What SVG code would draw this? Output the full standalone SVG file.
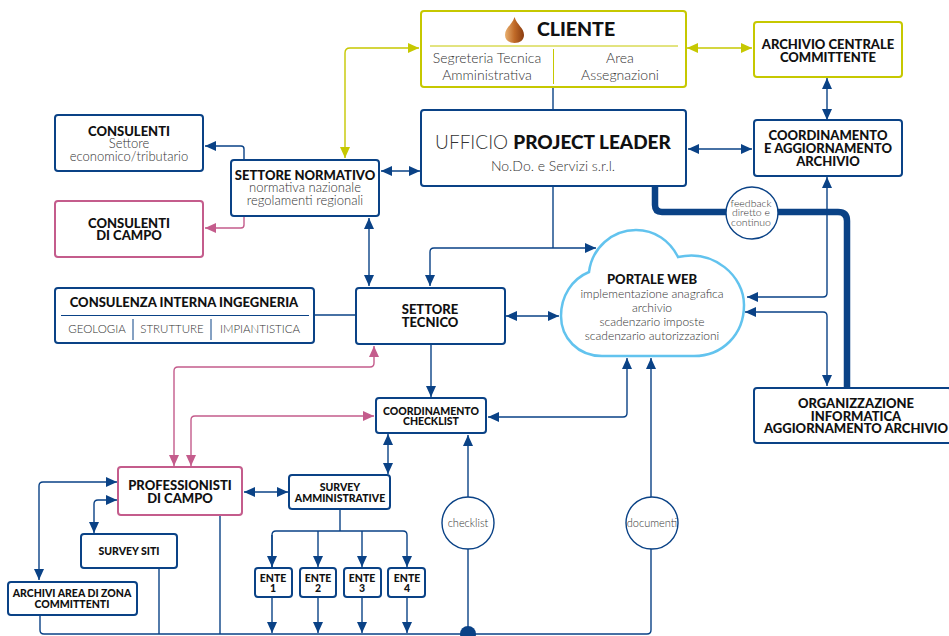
<svg xmlns="http://www.w3.org/2000/svg" width="949" height="636" viewBox="0 0 949 636">
<style>
text{font-family:"Lato","Open Sans","Liberation Sans",sans-serif;text-anchor:middle;fill:#111}
.b{font-weight:900;font-size:13px}
.s{font-weight:900;font-size:10.500px}
.l{font-weight:300;font-size:13px;fill:#333}
.pw{font-weight:300;font-size:12px;fill:#333}
.sub{font-weight:300;font-size:11.500px;fill:#333}
.m{font-weight:300;font-size:14px;fill:#333}
.t{font-weight:300;font-size:10.500px;fill:#333}
.n{fill:#fff;stroke:#0a4286;stroke-width:2}
.p{fill:#fff;stroke:#c45c8c;stroke-width:2}
.y{fill:#fff;stroke:#c6c800;stroke-width:2}
.c{fill:none;stroke:#0a4286;stroke-width:1.400}
.cp{fill:none;stroke:#c45c8c;stroke-width:1.400}
.cy{fill:none;stroke:#c6c800;stroke-width:1.400}
</style>
<defs>
<marker id="a" markerUnits="userSpaceOnUse" markerWidth="12" markerHeight="11" refX="11" refY="5" orient="auto-start-reverse"><path d="M0 0L11 5L0 10z" fill="#0a4286"/></marker>
<marker id="ap" markerUnits="userSpaceOnUse" markerWidth="12" markerHeight="11" refX="11" refY="5" orient="auto-start-reverse"><path d="M0 0L11 5L0 10z" fill="#c45c8c"/></marker>
<marker id="ay" markerUnits="userSpaceOnUse" markerWidth="12" markerHeight="11" refX="11" refY="5" orient="auto-start-reverse"><path d="M0 0L11 5L0 10z" fill="#c6c800"/></marker>
<linearGradient id="dr" x1="0" x2="1" y1="0" y2="0"><stop offset="0" stop-color="#e8b070"/><stop offset=".5" stop-color="#c06a28"/><stop offset="1" stop-color="#8a3c10"/></linearGradient>
</defs>
<g id="connectors">
<path d="M655 186V205Q655 212 662 212H838Q847 212 847 221V388" fill="none" stroke="#0a4286" stroke-width="6.500"/>
<path class="cy" d="M687 48H752" marker-start="url(#ay)" marker-end="url(#ay)"/>
<path class="cy" d="M345 158V53Q345 48 350 48H419" marker-start="url(#ay)" marker-end="url(#ay)"/>
<path class="c" d="M553 87V110"/>
<path class="c" d="M553 186V248"/>
<path class="c" d="M827 78V120" marker-start="url(#a)" marker-end="url(#a)"/>
<path class="c" d="M688 149H752" marker-start="url(#a)" marker-end="url(#a)"/>
<path class="c" d="M381 171H420" marker-start="url(#a)" marker-end="url(#a)"/>
<path class="c" d="M827 177V293Q827 297 823 297H747" marker-start="url(#a)" marker-end="url(#a)"/>
<path class="c" d="M745 312H823Q827 312 827 316V386" marker-start="url(#a)" marker-end="url(#a)"/>
<path class="c" d="M244 159V149Q244 146 241 146H205" marker-end="url(#a)"/>
<path class="cp" d="M244 216V225Q244 228 241 228H205" marker-end="url(#ap)"/>
<path class="c" d="M369 218V286" marker-start="url(#a)" marker-end="url(#a)"/>
<path class="c" d="M314 315H356"/>
<path class="c" d="M430 286V252Q430 248 434 248H596" marker-start="url(#a)" marker-end="url(#a)"/>
<path class="c" d="M506 316H559" marker-start="url(#a)" marker-end="url(#a)"/>
<path class="c" d="M431 344V397" marker-end="url(#a)"/>
<path class="c" d="M488 417H623Q627 417 627 413V358" marker-start="url(#a)" marker-end="url(#a)"/>
<path class="c" d="M651 358V630Q651 634 647 634H44Q40 634 40 630V616" marker-start="url(#a)"/>
<path class="c" d="M388 434V474" marker-start="url(#a)" marker-end="url(#a)"/>
<path class="c" d="M468 435V634" marker-start="url(#a)"/>
<path class="cp" d="M174 466V371Q174 367 178 367H370Q374 367 374 363V346" marker-start="url(#ap)" marker-end="url(#ap)"/>
<path class="cp" d="M191 466V420Q191 416 195 416H374" marker-start="url(#ap)" marker-end="url(#ap)"/>
<path class="c" d="M244 492H288" marker-start="url(#a)" marker-end="url(#a)"/>
<path class="c" d="M117 482H43Q39 482 39 486V580" marker-start="url(#a)" marker-end="url(#a)"/>
<path class="c" d="M117 500H98Q94 500 94 504V533" marker-start="url(#a)" marker-end="url(#a)"/>
<path class="c" d="M159 569V634"/>
<path class="c" d="M220 516V634"/>
<path class="c" d="M340 510V531"/>
<path class="c" d="M272 567V535Q272 531 276 531H403Q407 531 407 535V567" marker-end="url(#a)"/>
<path class="c" d="M272 535V567" marker-end="url(#a)"/>
<path class="c" d="M318 531V567" marker-end="url(#a)"/>
<path class="c" d="M362 531V567" marker-end="url(#a)"/>
<path class="c" d="M272 598V633" marker-end="url(#a)"/>
<path class="c" d="M318 598V633" marker-end="url(#a)"/>
<path class="c" d="M362 598V633" marker-end="url(#a)"/>
<path class="c" d="M407 598V633" marker-end="url(#a)"/>
<circle cx="468" cy="634" r="8" fill="#0a4286"/>
</g>
<g id="cliente">
<rect class="y" x="421" y="11" width="265" height="76" rx="3"/>
<path d="M514.500 17C517 25 524 28 524 35C524 40 520 43 514.500 43C509 43 505 40 505 35C505 28 512 25 514.500 17Z" fill="url(#dr)"/>
<text x="576" y="36" class="b" style="font-size:19.500px">CLIENTE</text>
<path d="M430 46H678M553.500 49V84" stroke="#c6c800" stroke-width="1" fill="none"/>
<text x="487" y="63" class="m">Segreteria Tecnica</text>
<text x="487" y="80" class="m">Amministrativa</text>
<text x="620" y="63" class="m">Area</text>
<text x="620" y="80" class="m">Assegnazioni</text>
</g>
<g id="ufficio">
<rect class="n" x="421" y="110" width="265" height="76" rx="3"/>
<text x="553" y="149" class="l" style="font-size:19px">UFFICIO <tspan font-weight="900" fill="#111">PROJECT LEADER</tspan></text>
<text x="553" y="171" class="m">No.Do. e Servizi s.r.l.</text>
</g>
<g id="archivio-centrale">
<rect class="y" x="754" y="22" width="148" height="55" rx="3"/>
<text x="828" y="49" class="b">ARCHIVIO CENTRALE</text><text x="828" y="62" class="b">COMMITTENTE</text>
</g>
<g id="coordinamento-archivio">
<rect class="n" x="754" y="120" width="148" height="56" rx="3"/>
<text x="828" y="140" class="b">COORDINAMENTO</text><text x="828" y="153" class="b">E AGGIORNAMENTO</text><text x="828" y="166" class="b">ARCHIVIO</text>
</g>
<g id="feedback">
<circle cx="752" cy="213" r="26" fill="#fff" stroke="#0a4286" stroke-width="1.400"/>
<text x="751" y="207" class="t">feedback</text><text x="751" y="216" class="t">diretto e</text><text x="751" y="226" class="t">continuo</text>
</g>
<g id="organizzazione">
<rect class="n" x="754" y="388" width="197" height="55" rx="3"/>
<text x="856" y="408" class="b">ORGANIZZAZIONE</text><text x="856" y="421" class="b">INFORMATICA</text><text x="856" y="433" class="b">AGGIORNAMENTO ARCHIVIO</text>
</g>
<g id="consulenti">
<rect class="n" x="55" y="115" width="148" height="56" rx="3"/>
<text x="129" y="136" class="b">CONSULENTI</text><text x="129" y="148" class="l">Settore</text><text x="129" y="161" class="l">economico/tributario</text>
</g>
<g id="settore-normativo">
<rect class="n" x="231" y="160" width="148" height="56" rx="3"/>
<text x="305" y="180" class="b">SETTORE NORMATIVO</text><text x="305" y="192" class="l">normativa nazionale</text><text x="305" y="205" class="l">regolamenti regionali</text>
</g>
<g id="consulenti-campo">
<rect class="p" x="55" y="201" width="148" height="56" rx="3"/>
<text x="129" y="228" class="b">CONSULENTI</text><text x="129" y="240" class="b">DI CAMPO</text>
</g>
<g id="consulenza-interna">
<rect class="n" x="55" y="288" width="259" height="55" rx="3"/>
<text x="184" y="307" class="b">CONSULENZA INTERNA INGEGNERIA</text>
<path d="M61 315.500H309M133 319V340M211 319V340" stroke="#0a4286" stroke-width="1" fill="none"/>
<text x="97" y="333" class="sub">GEOLOGIA</text><text x="172" y="333" class="sub">STRUTTURE</text><text x="260" y="333" class="sub">IMPIANTISTICA</text>
</g>
<g id="settore-tecnico">
<rect class="n" x="356" y="288" width="149" height="56" rx="3"/>
<text x="430" y="314" class="b">SETTORE</text><text x="430" y="327" class="b">TECNICO</text>
</g>
<g id="portale-web">
<path d="M589 272C592 248 612 230 636 230C655 230 670 241 678 257C714 249 744 276 744 305C744 335 722 356 694 356H602C578 356 561 338 561 316C561 296 572 279 589 272Z" fill="#fff" stroke="#62c3ee" stroke-width="2.500"/>
<text x="652" y="284" class="b">PORTALE WEB</text>
<text x="652" y="298" class="pw">implementazione anagrafica</text><text x="652" y="312" class="pw">archivio</text><text x="652" y="326" class="pw">scadenzario imposte</text><text x="652" y="340" class="pw">scadenzario autorizzazioni</text>
</g>
<g id="coordinamento-checklist">
<rect class="n" x="376" y="398" width="110" height="35" rx="3"/>
<text x="431" y="415" class="s">COORDINAMENTO</text><text x="431" y="425" class="s">CHECKLIST</text>
</g>
<g id="professionisti">
<rect class="p" x="118" y="467" width="124" height="48" rx="3"/>
<text x="180" y="490" class="b">PROFESSIONISTI</text><text x="180" y="503" class="b">DI CAMPO</text>
</g>
<g id="survey-amm">
<rect class="n" x="289" y="475" width="101" height="34" rx="3"/>
<text x="340" y="491" class="s">SURVEY</text><text x="340" y="502" class="s">AMMINISTRATIVE</text>
</g>
<g id="survey-siti">
<rect class="n" x="81" y="534" width="96" height="34" rx="3"/>
<text x="129" y="555" class="s">SURVEY SITI</text>
</g>
<g id="archivi">
<rect class="n" x="8" y="582" width="129" height="33" rx="3"/>
<text x="72" y="597" class="s">ARCHIVI AREA DI ZONA</text><text x="72" y="608" class="s">COMMITTENTI</text>
</g>
<g id="ente-1"><rect class="n" x="255" y="568" width="37" height="29" rx="3"/><text x="273" y="582" class="s">ENTE</text><text x="273" y="592" class="s">1</text></g>
<g id="ente-2"><rect class="n" x="300" y="568" width="36" height="29" rx="3"/><text x="318" y="582" class="s">ENTE</text><text x="318" y="592" class="s">2</text></g>
<g id="ente-3"><rect class="n" x="344" y="568" width="37" height="29" rx="3"/><text x="362" y="582" class="s">ENTE</text><text x="362" y="592" class="s">3</text></g>
<g id="ente-4"><rect class="n" x="388" y="568" width="37" height="29" rx="3"/><text x="407" y="582" class="s">ENTE</text><text x="407" y="592" class="s">4</text></g>
<g id="checklist"><circle cx="468" cy="523" r="26" fill="#fff" stroke="#0a4286" stroke-width="1.400"/><text x="468" y="527" class="t" style="font-size:11px">checklist</text></g>
<g id="documenti"><circle cx="652" cy="523" r="26" fill="#fff" stroke="#0a4286" stroke-width="1.400"/><text x="652" y="527" class="t" style="font-size:11px">documenti</text></g>
</svg>
